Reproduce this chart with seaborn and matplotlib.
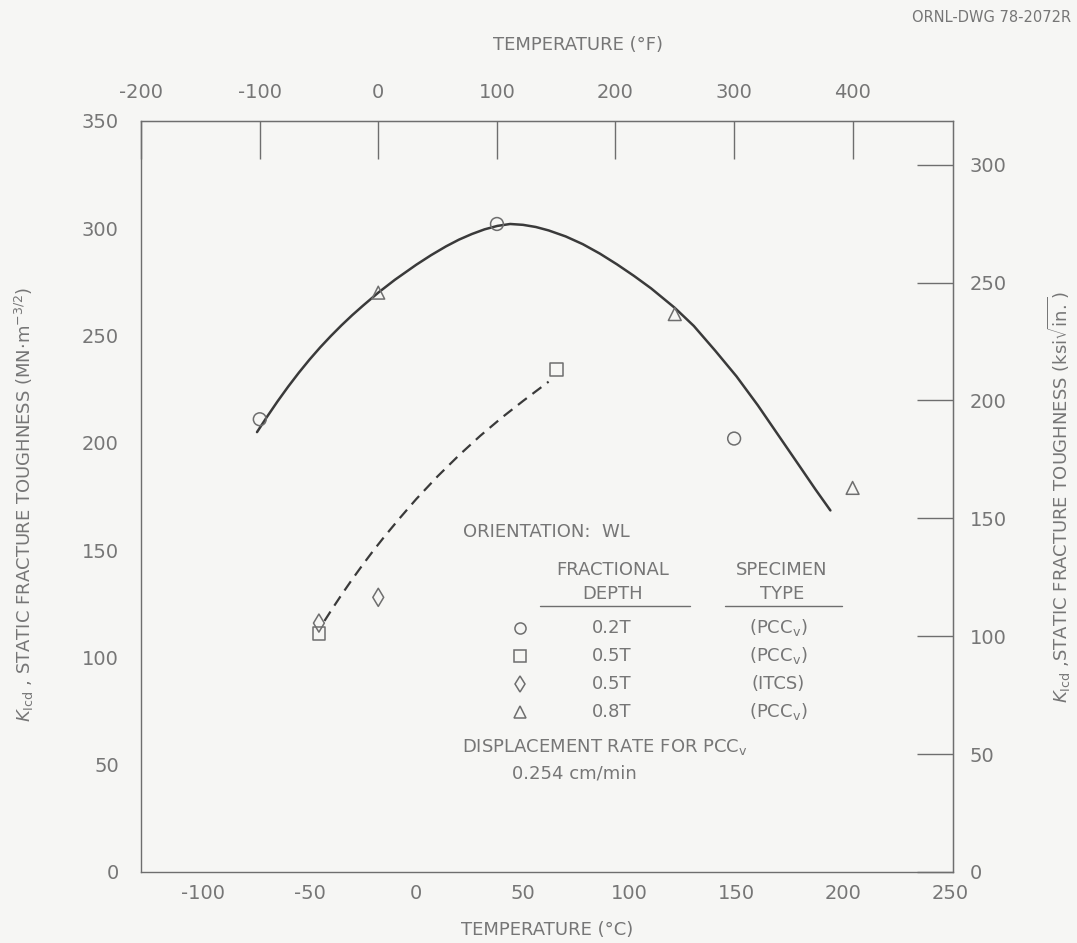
import numpy as np
import pandas as pd
import matplotlib
matplotlib.use("Agg")
import matplotlib.pyplot as plt
import seaborn as sns

sns.set_style("white")
plt.rcParams['font.family'] = ['DejaVu Sans']
plt.rcParams['mathtext.fontset'] = 'dejavusans'
plt.rcParams['axes.unicode_minus'] = False

# -------------------------
# Data (temperature in C, K_Icd in MN m^-3/2)
# -------------------------
circle_t = [-73.3, 37.8, 148.9]          # 0.2T (PCCv)
circle_k = [211, 302, 202]
square_t = [-45.6, 65.6]                 # 0.5T (PCCv)
square_k = [111, 234]
diamond_t = [-45.6, -17.8]               # 0.5T (1TCS)
diamond_k = [116, 128]
triangle_t = [-17.8, 121.1, 204.4]       # 0.8T (PCCv)
triangle_k = [270, 260, 179]

# solid trend curve
curve_t = [-74.6, -70, -65, -60, -55, -50, -45, -40, -35, -30, -25, -17.8, -10, 0, 7, 14, 20, 26, 32, 38,
           44, 50, 56, 62, 70, 78, 86, 94, 102, 110, 121, 130, 140, 150, 160, 170, 180, 187, 194]
curve_k = [205, 212, 219.3, 226.2, 232.7, 238.8, 244.5, 249.8, 254.8, 259.5, 263.9, 270, 276, 283, 287.5,
           291.6, 294.7, 297.3, 299.5, 301.1, 302, 301.6, 300.6, 299, 296.2, 292.6, 288.2, 283.2, 277.8,
           272, 263, 254.5, 243, 231, 217.5, 203, 188.5, 178.3, 168.5]

# dashed trend curve
dash_t = [-43, -39, -35, -30, -25, -20, -15, -8, 0, 10, 20, 30, 40, 50, 62]
dash_k = [117, 123.2, 129.2, 136.4, 143.3, 149.9, 156.2, 164.6, 173.8, 184.4, 194.2, 203.3, 211.7, 219.5, 228.5]

ink = '#3a3a3a'
grey = '#6e6e6e'
txt = '#767676'

fig = plt.figure(figsize=(10.77, 9.43), dpi=100)
fig.patch.set_facecolor('#f6f6f4')
ax = fig.add_axes([0.131, 0.0753, 0.754, 0.7964])
ax.set_facecolor('#f6f6f4')

sns.lineplot(x=curve_t, y=curve_k, ax=ax, color=ink, lw=1.8, sort=False, estimator=None)
sns.lineplot(x=dash_t, y=dash_k, ax=ax, color=ink, lw=1.6, sort=False, estimator=None,
             linestyle=(0, (5, 3.2)))

mk = dict(ax=ax, s=85, facecolor='none', edgecolor=grey, linewidth=1.1, zorder=5)
sns.scatterplot(x=circle_t, y=circle_k, marker='o', **mk)
sns.scatterplot(x=square_t, y=square_k, marker='s', **mk)
sns.scatterplot(x=diamond_t, y=diamond_k, marker='d', **mk)
sns.scatterplot(x=triangle_t, y=triangle_k, marker='^', **mk)

ax.set_xlim(-128.9, 251.5)
ax.set_ylim(0, 350)
ax.set_xticks(np.arange(-100, 251, 50))
ax.set_yticks(np.arange(0, 351, 50))
for s in ax.spines.values():
    s.set_color(grey)
    s.set_linewidth(1.0)
ax.tick_params(axis='x', direction='in', length=27, width=1, color=grey,
               labelcolor=txt, labelsize=14, pad=9)
ax.tick_params(axis='y', direction='in', length=26, width=1, color=grey,
               labelcolor=txt, labelsize=14, pad=16)
ax.set_xlabel('TEMPERATURE (°C)', fontsize=13, color=txt)
ax.xaxis.set_label_coords(0.5, -(921 - 872) / 751)
ax.set_ylabel(r'$K_{\rm Icd}$ , STATIC FRACTURE TOUGHNESS (MN$\cdot$m$^{-3/2}$)',
              fontsize=13, color=txt)
ax.yaxis.set_label_coords((36 - 141) / 812, 0.49)

# top axis in Fahrenheit
top = ax.secondary_xaxis('top', functions=(lambda c: c * 9 / 5 + 32, lambda f: (f - 32) * 5 / 9))
top.set_xticks(np.arange(-200, 401, 100))
top.tick_params(direction='in', length=27, width=1, color=grey, labelcolor=txt, labelsize=14, pad=14)
top.spines['top'].set_color(grey)

# right axis in ksi sqrt(in.)
right = ax.secondary_yaxis('right', functions=(lambda m: m / 1.0988, lambda k: k * 1.0988))
right.set_yticks(np.arange(0, 301, 50))
right.tick_params(direction='in', length=26, width=1, color=grey, labelcolor=txt, labelsize=14, pad=12)
right.spines['right'].set_color(grey)
right.set_ylabel(r'$K_{\rm Icd}$ ,STATIC FRACTURE TOUGHNESS (ksi$\sqrt{\rm in.}$)',
                 fontsize=13, color=txt, labelpad=28)

fig.text(578 / 1077, 1 - 45 / 943, 'TEMPERATURE (°F)', fontsize=13, color=txt, ha='center', va='center')
fig.text(0.995, 1 - 17 / 943, 'ORNL-DWG 78-2072R', fontsize=10.5, color=txt, ha='right', va='center')

# key drawn as text inside the plot
def fx(px):
    return px / 1077

def fy(py):
    return 1 - py / 943

fig.text(fx(463), fy(532), 'ORIENTATION:  WL', fontsize=13, color=txt, va='center')
fig.text(fx(613), fy(570), 'FRACTIONAL', fontsize=13, color=txt, ha='center', va='center')
fig.text(fx(613), fy(594), 'DEPTH', fontsize=13, color=txt, ha='center', va='center')
fig.text(fx(782), fy(570), 'SPECIMEN', fontsize=13, color=txt, ha='center', va='center')
fig.text(fx(782), fy(594), 'TYPE', fontsize=13, color=txt, ha='center', va='center')
fig.add_artist(plt.Line2D([fx(540), fx(690)], [fy(606), fy(606)], color=grey, lw=1))
fig.add_artist(plt.Line2D([fx(725), fx(842)], [fy(606), fy(606)], color=grey, lw=1))

key_markers = ['o', 's', 'd', '^']
key_depth = ['0.2T', '0.5T', '0.5T', '0.8T']
key_type = [r'(PCC$_{\rm v}$)', r'(PCC$_{\rm v}$)', '(ITCS)', r'(PCC$_{\rm v}$)']
key_rows = [628, 656, 684, 712]
for m, d, t, r in zip(key_markers, key_depth, key_type, key_rows):
    fig.add_artist(plt.Line2D([fx(520)], [fy(r)], marker=m, markersize=8, mfc='none',
                              mec=grey, mew=1.1, ls='none'))
    fig.text(fx(612), fy(r), d, fontsize=13, color=txt, ha='center', va='center')
    fig.text(fx(778), fy(r), t, fontsize=13, color=txt, ha='center', va='center')

fig.text(fx(462), fy(747), r'DISPLACEMENT RATE FOR PCC$_{\rm v}$', fontsize=13, color=txt, va='center')
fig.text(fx(512), fy(773), '0.254 cm/min', fontsize=13, color=txt, va='center')

fig.savefig('out.png', dpi=100, facecolor=fig.get_facecolor())
